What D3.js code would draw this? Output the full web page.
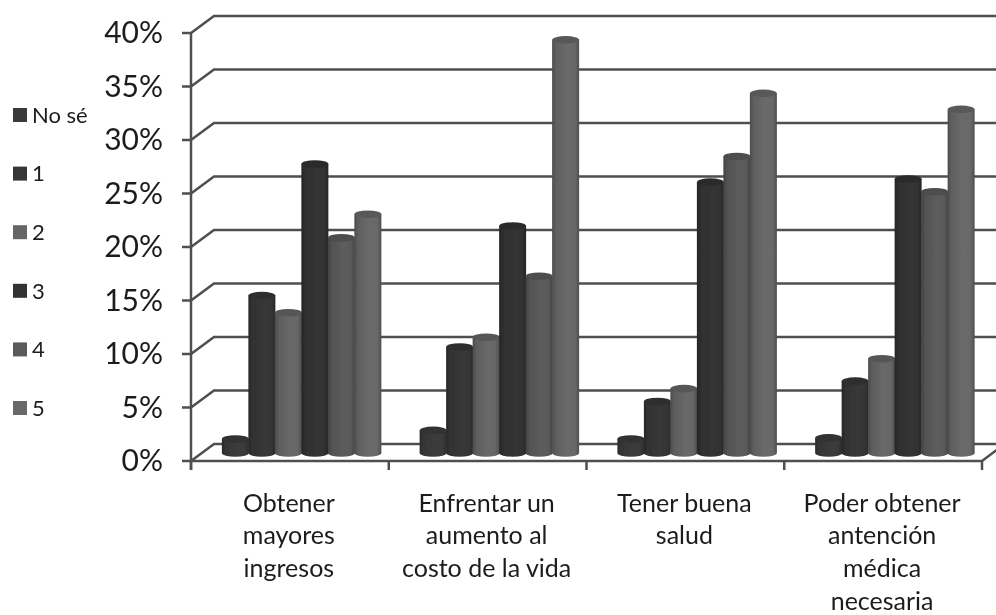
<!DOCTYPE html>
<html><head><meta charset="utf-8">
<script src="https://cdn.jsdelivr.net/npm/d3@7"></script>
<style>html,body{margin:0;padding:0;background:#fff}svg{display:block}text{font-family:Lato,"Open Sans",sans-serif;fill:#1c1c1c}</style>
</head><body><svg id="c" width="996" height="615"></svg>
<script>
const categories = [
  ["Obtener","mayores","ingresos"],
  ["Enfrentar un","aumento al","costo de la vida"],
  ["Tener buena","salud"],
  ["Poder obtener","antención","médica","necesaria"]
];
const seriesNames = ["No sé","1","2","3","4","5"];
const serieNoSe = [1.5,2.3,1.5,1.6];
const serie1 = [14.9,10.1,5.0,6.9];
const serie2 = [13.3,11.0,6.2,9.0];
const serie3 = [27.2,21.4,25.5,25.8];
const serie4 = [20.3,16.7,27.9,24.6];
const serie5 = [22.5,38.8,33.8,32.3];
const seriesValues = [serieNoSe,serie1,serie2,serie3,serie4,serie5];
const seriesColors = ["#3a3a3a","#363636","#666666","#333333","#5a5a5a","#686868"];
const yTicks = [0,5,10,15,20,25,30,35,40];

const svg = d3.select("#c");
const W=996, frontX=191, right=982, y0=461, y40=33, dx=23, dy=17, barBase=455;
const y = d3.scaleLinear().domain([0,40]).range([y0,y40]);
const x0 = d3.scaleBand().domain(d3.range(categories.length)).range([frontX,right]);
const x1 = d3.scaleBand().domain(d3.range(seriesNames.length)).range([0,159]);
const barLeft = g => x0(g)+ (x0.bandwidth()-159)/2 + 11.5;
const unit = y(0)-y(1);

const defs = svg.append("defs");
defs.append("filter").attr("id","soft").append("feGaussianBlur").attr("stdDeviation",0.6);
defs.append("filter").attr("id","softText").append("feGaussianBlur").attr("stdDeviation",0.35);
seriesColors.forEach((c,i)=>{
  const g = defs.append("linearGradient").attr("id","g"+i);
  const col = d3.color(c);
  [[0,col.darker(.9)],[.14,col.darker(.25)],[.55,col.brighter(.05)],[.85,col],[1,col.darker(.8)]]
   .forEach(([o,k])=>g.append("stop").attr("offset",o).attr("stop-color",k));
});

const root = svg.append("g").attr("filter","url(#soft)");
const lineCol="#4f4f4f", lineW=2.5;
yTicks.forEach(t=>{
  const yy=y(t);
  root.append("path").attr("fill","none").attr("stroke",lineCol).attr("stroke-width",lineW)
    .attr("d",`M${frontX-9},${yy}H${frontX}L${frontX+dx},${yy-dy}H${W}`);
});
root.append("path").attr("fill","none").attr("stroke",lineCol).attr("stroke-width",lineW)
  .attr("d",`M${frontX},${y40}V${y0+9}`);
root.append("path").attr("fill","none").attr("stroke",lineCol).attr("stroke-width",lineW)
  .attr("d",`M${frontX},${y0}H${right}L${W+2},${y0-12}`);
d3.range(categories.length+1).forEach(i=>{
  const xx = i<categories.length ? x0(i) : right;
  root.append("line").attr("x1",xx).attr("x2",xx).attr("y1",y0).attr("y2",y0+9)
    .attr("stroke",lineCol).attr("stroke-width",lineW);
});
categories.forEach((c,g)=>{
  seriesValues.forEach((vals,s)=>{
    const w=x1.bandwidth()+.5, l=barLeft(g)+x1(s), top=barBase-vals[g]*unit, rx=w/2, ry=3.8;
    const col=d3.color(seriesColors[s]);
    root.append("path").attr("fill",`url(#g${s})`)
      .attr("d",`M${l},${top}V${barBase-2}A${rx},${ry} 0 0 0 ${l+w},${barBase-2}V${top}Z`);
    root.append("ellipse").attr("cx",l+rx).attr("cy",top).attr("rx",rx).attr("ry",ry)
      .attr("fill",col.darker(.45));
  });
});
const txt = svg.append("g").attr("filter","url(#softText)");
yTicks.forEach(t=>{
  txt.append("text").attr("x",163).attr("y",y(t)).attr("dy","0.34em")
    .attr("text-anchor","end").attr("font-size",30).text(t+"%");
});
categories.forEach((lines,g)=>{
  const cx=barLeft(g)+67;
  lines.forEach((ln,i)=>{
    txt.append("text").attr("x",cx).attr("y",503+i*32.7).attr("dy","0.34em")
      .attr("text-anchor","middle").attr("font-size",25).text(ln);
  });
});
const legY = d3.scalePoint().domain(seriesNames).range([115,408]);
seriesNames.forEach((n,i)=>{
  svg.append("rect").attr("x",13).attr("y",legY(n)-7).attr("width",14).attr("height",14)
    .attr("fill",seriesColors[i]);
  txt.append("text").attr("x",32).attr("y",legY(n)).attr("dy","0.35em")
    .attr("font-size",22).text(n);
});
</script></body></html>
